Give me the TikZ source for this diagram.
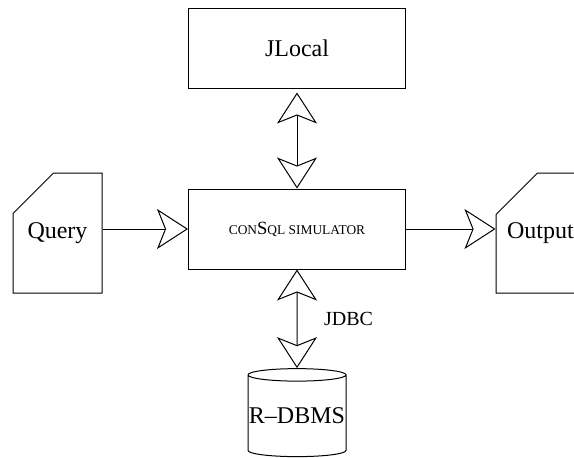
\documentclass[tikz,border=0pt]{standalone}
\usepackage{fontspec}
\setmainfont{Liberation Serif}
\usepackage{tikz}
\usetikzlibrary{arrows.meta,shapes.misc,shapes.geometric}
\tikzset{
  box/.style={draw, minimum width=108.5pt, minimum height=40pt, inner sep=0pt},
  docshape/.style={draw, chamfered rectangle, chamfered rectangle corners=north west,
    chamfered rectangle xsep=16pt, chamfered rectangle ysep=15.5pt,
    minimum width=44.5pt, minimum height=60pt, inner sep=0pt},
  dbshape/.style={draw, cylinder, shape border rotate=90, aspect=0.13,
    minimum width=49pt, minimum height=44pt, inner sep=0pt},
  tip/.tip={Stealth[open, length=15.5pt, width=20pt, inset=4pt]},
}
\def\boxnode{\node[box]}
\def\docnode{\node[docshape]}
\def\drawflow{\draw[line width=0.5pt, -tip]}
\def\drawboth{\draw[line width=0.5pt, tip-tip]}
\newcommand\smc[1]{{\fontsize{6.7}{8}\selectfont #1}}

\begin{document}
\begin{tikzpicture}[x=0.5pt,y=-0.5pt,line width=0.5pt,font=\fontsize{12}{14}\selectfont]
\clip (0,0) rectangle (574,457);
\boxnode (jlocal) at (297,48) {JLocal};
\boxnode (sim) at (297,229) {\fontsize{9.3}{11}\selectfont\smc{CON}S\smc{QL SIMULATOR}};
\docnode (query) at (57.5,233) {Query};
\docnode (output) at (540.5,233) {Output};
\node[dbshape] (dbms) at (297,416) {R–DBMS};
% connectors
\drawflow (query.east |- sim.west) -- (sim.west);
\drawflow (sim.east) -- (output.west |- sim.east);
\drawboth[shorten <=2pt] (jlocal.south) -- (sim.north);
\drawboth (sim.south) -- node[midway, right, xshift=10pt, font=\fontsize{10}{12}\selectfont] {JDBC} (dbms.north);
\end{tikzpicture}
\end{document}
